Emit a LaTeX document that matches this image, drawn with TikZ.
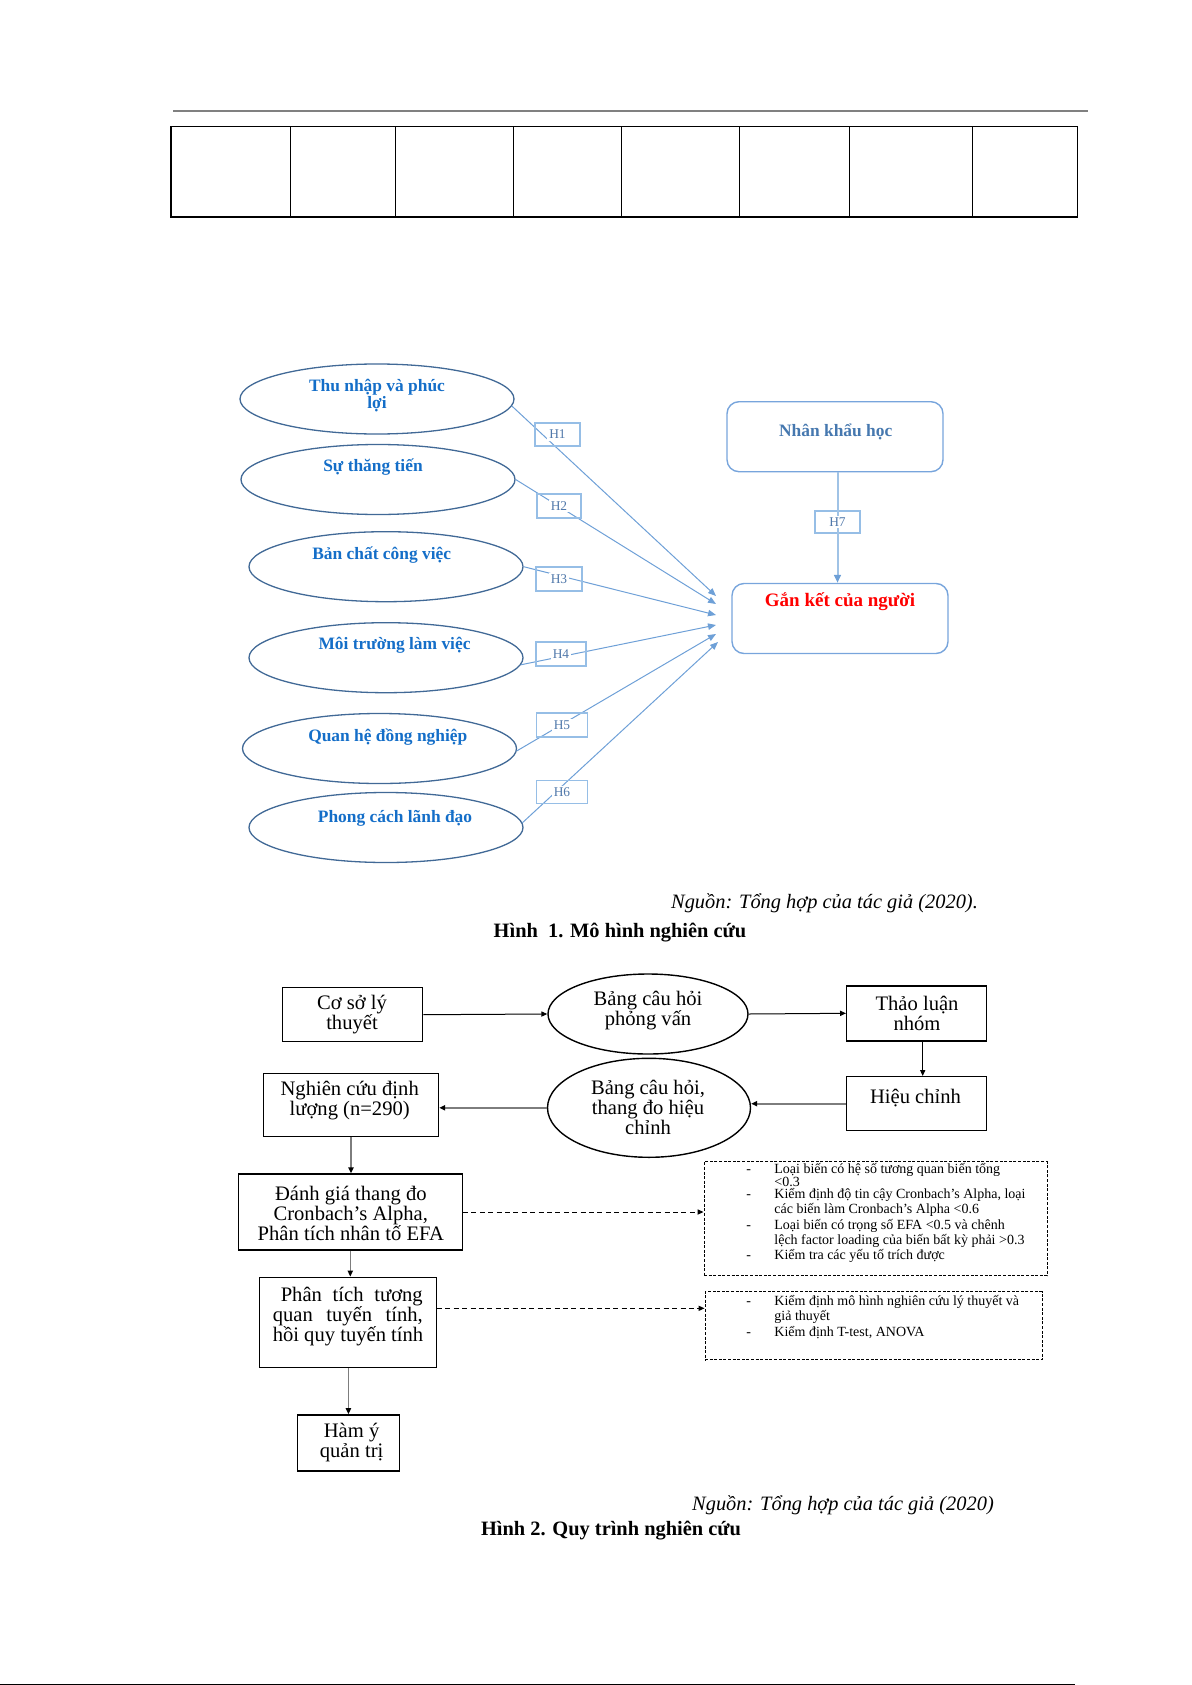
\documentclass[tikz,border=0pt]{standalone}
\usepackage{fontspec}
\setmainfont{Liberation Serif}
\usetikzlibrary{shapes.geometric,arrows.meta,calc}
\definecolor{ellc}{RGB}{65,105,150}
\definecolor{etxt}{RGB}{20,110,200}
\definecolor{conn}{RGB}{110,160,215}
\definecolor{hboxc}{RGB}{150,190,230}
\definecolor{htxt}{RGB}{80,120,170}
\definecolor{rboxc}{RGB}{120,165,220}
\definecolor{ntxt}{RGB}{70,120,175}
\definecolor{garr}{RGB}{125,125,125}
\definecolor{hdrc}{RGB}{128,128,128}
\definecolor{h7c}{RGB}{160,195,230}
\begin{document}
\begin{tikzpicture}[x=0.5pt,y=-0.5pt,
 ellA/.style={ellipse,draw=ellc,line width=0.65pt,inner sep=0pt,minimum width=137pt,minimum height=35pt},
 etx/.style={inner sep=0pt,font=\fontsize{8.7}{8.5}\selectfont\bfseries,text=etxt,align=center},
 hbx/.style={draw=hboxc,line width=0.6pt,inner sep=0pt},
 htx/.style={inner sep=1pt,fill=white,font=\fontsize{6.7}{7}\selectfont,text=htxt},
 rbx/.style={draw=rboxc,line width=0.7pt,rounded corners=6pt,inner sep=0pt,minimum width=108pt,minimum height=35pt},
 ntx/.style={inner sep=0pt,font=\fontsize{8.7}{9}\selectfont\bfseries,text=ntxt},
 gtx/.style={inner sep=0pt,font=\fontsize{9.5}{10}\selectfont\bfseries,text=red},
 cnA/.style={draw=conn,line width=0.5pt,-{Triangle[length=4pt,width=3.2pt]}},
 hsev/.style={draw=h7c,line width=1pt,-{Triangle[length=4pt,width=3.4pt,color=conn]}},
 boxB/.style={draw=black,line width=0.7pt,inner sep=0pt},
 ellB/.style={ellipse,draw=black,line width=0.7pt,inner sep=0pt},
 tB/.style={inner sep=0pt,font=\fontsize{10.3}{10}\selectfont,align=center},
 arB/.style={draw=black,line width=0.5pt,-{Triangle[length=3pt,width=2.6pt]}},
 garB/.style={draw=garr,line width=0.8pt,-{Triangle[length=3pt,width=2.6pt,color=black]}},
 dsh/.style={draw=black,line width=0.5pt,dash pattern=on 2.5pt off 1.7pt,-{Triangle[length=3pt,width=2.6pt]}},
 dbox/.style={draw=black,line width=0.5pt,dash pattern=on 1.5pt off 0.8pt,inner sep=0pt},
 lst/.style={anchor=west,inner sep=0pt,align=left,font=\fontsize{7}{6.3}\selectfont},
 capi/.style={inner sep=0pt,font=\fontsize{10.2}{11}\selectfont\itshape},
 capb/.style={inner sep=0pt,font=\fontsize{10.2}{11}\selectfont\bfseries}
]
\useasboundingbox (0,0) rectangle (1192,1685);

% header rule and empty table
\draw[draw=hdrc,line width=0.75pt] (173,111) -- (1088,111);
\draw[line width=0.75pt] (171,126.6) rectangle (1077.4,217);
\foreach \x in {290.3,395.2,513.3,621.2,739.3,849.6,972.5}
  \draw[line width=0.4pt] (\x,126.6) -- (\x,217);

% ---------------- Figure 1 ----------------
\node[ellA] (e1) at (377,399) {};
\node[etx] (e1t) at (377,395.5) {Thu nhập và phúc\\lợi};
\node[ellA] (e2) at (378,479.5) {};
\node[etx] (e2t) at (373,466.7) {Sự thăng tiến};
\node[ellA] (e3) at (386,566.7) {};
\node[etx] (e3t) at (381.7,555) {Bản chất công việc};
\node[ellA] (e4) at (386,657.7) {};
\node[etx] (e4t) at (394.5,645) {Môi trường làm việc};
\node[ellA] (e5) at (379.5,748.5) {};
\node[etx] (e5t) at (387.8,736.7) {Quan hệ đồng nghiệp};
\node[ellA] (e6) at (386,827.5) {};
\node[etx] (e6t) at (395,818.3) {Phong cách lãnh đạo};

\node[rbx] (nk) at (835,436.7) {};
\node[ntx] (nkt) at (835.7,431.7) {Nhân khẩu học};
\node[rbx] (gk) at (840,618.5) {};
\node[gtx] (gkt) at (840,601.7) {Gắn kết của người};

\coordinate (t1) at (716,596);
\coordinate (t2) at (716,604);
\coordinate (t3) at (716,615);
\coordinate (t4) at (716,625);
\coordinate (t5) at (716,634);
\coordinate (t6) at (718,642);

\draw[cnA] (e1.-3) -- (t1);
\draw[cnA] (e2.east) -- (t2);
\draw[cnA] (e3.east) -- (t3);
\draw[cnA] (e4.-3) -- (t4);
\draw[cnA] (e5.-1.5) -- (t5);
\draw[cnA] (e6.2.3) -- (t6);

\node[hbx,minimum width=22.5pt,minimum height=11.5pt] (h1) at (557.5,434.5) {};
\node[htx] (h1t) at (h1) {H1};
\node[hbx,minimum width=22pt,minimum height=12pt] (h2) at (559,506) {};
\node[htx] (h2t) at (h2) {H2};
\node[hbx,minimum width=23pt,minimum height=12pt] (h3) at (559,579) {};
\node[htx] (h3t) at (h3) {H3};
\node[hbx,minimum width=25pt,minimum height=12pt] (h4) at (561,654) {};
\node[htx] (h4t) at (h4) {H4};
\node[hbx,minimum width=25.5pt,minimum height=12pt] (h5) at (562,725) {};
\node[htx] (h5t) at (h5) {H5};
\node[hbx,minimum width=25.5pt,minimum height=11.5pt] (h6) at (562,792) {};
\node[htx] (h6t) at (h6) {H6};
\node[hbx,minimum width=22.5pt,minimum height=11pt] (h7) at (837.5,522) {};
\draw[hsev] (nk.south -| h7) -- (gk.north -| h7);
\node[htx] (h7t) at (h7) {H7};

\node[capi] (src1) at (824.5,903) {Nguồn: Tổng hợp của tác giả (2020).};
\node[capb] (cap1) at (620,933) {Hình\ \ 1. Mô hình nghiên cứu};

% ---------------- Figure 2 ----------------
\node[boxB,minimum width=70pt,minimum height=27pt] (a) at (352.7,1014.7) {};
\node[tB] (atx) at (352,1015) {Cơ sở lý\\thuyết};
\node[ellB,minimum width=100pt,minimum height=40pt] (b) at (648,1014) {};
\node[tB] (btx) at (648,1011) {Bảng câu hỏi\\phỏng vấn};
\node[boxB,minimum width=70pt,minimum height=27.5pt] (c) at (916.7,1013.3) {};
\node[tB] (ctx) at (917,1013) {Thảo luận\\nhóm};
\node[boxB,minimum width=70pt,minimum height=27pt] (d) at (916.7,1103.7) {};
\node[tB] (dtx) at (915.5,1098) {Hiệu chỉnh};
\node[ellB,minimum width=101.5pt,minimum height=49.5pt] (e) at (649,1107.8) {};
\node[tB] (etx2) at (648,1107.3) {Bảng câu hỏi,\\thang đo hiệu\\chỉnh};
\node[boxB,minimum width=87.5pt,minimum height=31.5pt] (f) at (351,1104.7) {};
\node[tB] (ftx) at (349.7,1101) {Nghiên cứu định\\lượng (n=290)};
\node[boxB,minimum width=112pt,minimum height=38pt] (g) at (350.3,1212) {};
\node[tB] (gtx2) at (350.8,1213) {Đánh giá thang đo\\Cronbach’s Alpha,\\Phân tích nhân tố EFA};
\node[boxB,minimum width=88.5pt,minimum height=45pt] (p) at (347.7,1322.3) {};
\node[tB,align=left] (ptx) at (348,1316.7) {\makebox[75pt][s]{\hspace{4pt}Phân tích tương}\\\makebox[75pt][s]{quan tuyến tính,}\\hồi quy tuyến tính};
\node[boxB,minimum width=51pt,minimum height=28pt] (q) at (348.4,1442.9) {};
\node[tB] (qtx) at (351.6,1442.2) {Hàm ý\\quản trị};

\node[dbox,minimum width=171.5pt,minimum height=57pt] (r1) at (875.5,1218.9) {};
\node[lst] (r1t) at (746,1212.9) {\makebox[14pt][l]{-}Loại biến có hệ số tương quan biến tổng\\\hspace*{14pt}<0.3\\\makebox[14pt][l]{-}Kiểm định độ tin cậy Cronbach’s Alpha, loại\\\hspace*{14pt}các biến làm Cronbach’s Alpha <0.6\\\makebox[14pt][l]{-}Loại biến có trọng số EFA <0.5 và chênh\\\hspace*{14pt}lệch factor loading của biến bất kỳ phải >0.3\\\makebox[14pt][l]{-}Kiểm tra các yếu tố trích được};
\node[dbox,minimum width=168.5pt,minimum height=34pt] (r2) at (873.5,1325.9) {};
\node[lst] (r2t) at (746,1317) {\makebox[14pt][l]{-}Kiểm định mô hình nghiên cứu lý thuyết và\\\hspace*{14pt}giả thuyết\\\makebox[14pt][l]{-}Kiểm định T-test, ANOVA};

\draw[arB] (a.east) -- (b.west);
\draw[arB] (b.east) -- (c.west);
\draw[arB] ([xshift=3pt]c.south) -- ([xshift=3pt]d.north);
\draw[garB] (d.west) -- (d.west -| e.east);
\draw[garB] (e.west) -- (e.west -| f.east);
\draw[garB] (f.south) -- (f.south |- g.north);
\draw[garB] (g.south) -- (g.south |- p.north);
\draw[garB] (q.north |- p.south) -- (q.north);
\draw[dsh] (g.east) -- (g.east -| r1.west);
\draw[dsh] ([yshift=7pt]p.east) -- ([yshift=7pt]p.east -| r2.west);

\node[capi] (src2) at (843,1505) {Nguồn: Tổng hợp của tác giả (2020)};
\node[capb] (cap2) at (611,1531) {Hình 2. Quy trình nghiên cứu};

% page edge rule
\draw[line width=0.6pt] (0,1684.4) -- (1075,1684.4);
\end{tikzpicture}
\end{document}
